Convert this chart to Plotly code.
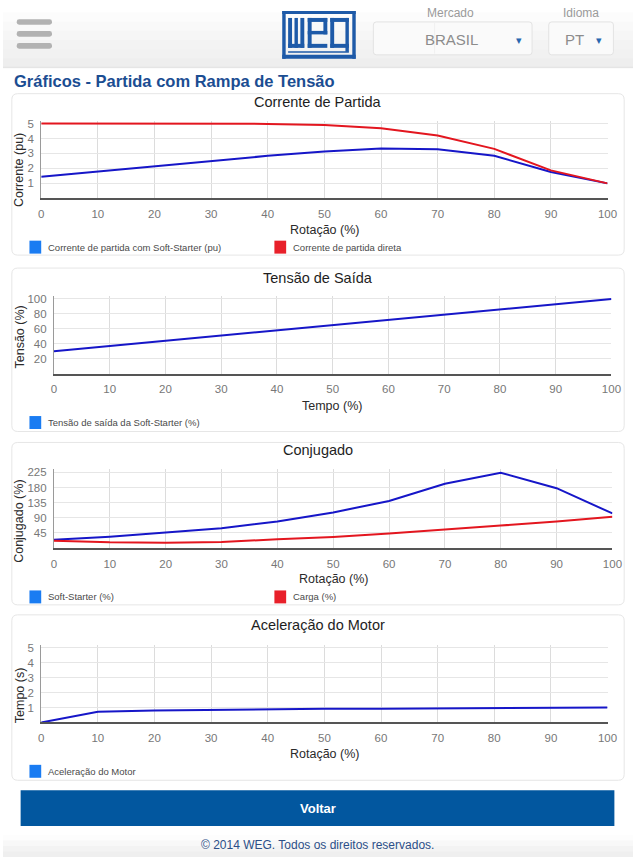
import plotly.graph_objects as go

W, H = 643, 857

# ---------------- data ----------------
rotacao = [0, 10, 20, 30, 40, 50, 60, 70, 80, 90, 100]
tempo_pct = [0, 10, 20, 30, 40, 50, 60, 70, 80, 90, 100]

corrente_soft = [1.45, 1.8, 2.16, 2.5, 2.84, 3.13, 3.33, 3.29, 2.85, 1.76, 1.0]
corrente_direta = [5.0, 5.0, 5.0, 5.0, 4.98, 4.91, 4.69, 4.2, 3.31, 1.87, 1.0]

tensao_saida = [30, 37, 44, 51, 58, 65, 72, 79, 86, 93, 100]

conj_soft = [25, 34, 46, 59, 79, 106, 140, 191, 224, 178, 103]
conj_carga = [22, 17, 16, 18, 26, 33, 43, 54, 67, 79, 93]

aceleracao = [0, 0.71, 0.8, 0.84, 0.89, 0.91, 0.92, 0.94, 0.96, 0.98, 1.0]

x_ticks = [0, 10, 20, 30, 40, 50, 60, 70, 80, 90, 100]
y_ticks_corr = [1, 2, 3, 4, 5]
y_ticks_tens = [20, 40, 60, 80, 100]
y_ticks_conj = [45, 90, 135, 180, 225]
y_ticks_acel = [1, 2, 3, 4, 5]

BLUE_LINE = "#1616c8"
RED_LINE = "#e3161f"
BLUE_SQ = "#1a7cf2"
RED_SQ = "#e8202a"
FONT = "Liberation Sans, Arial, Helvetica, sans-serif"


def PX(x):
    return x / W


def PY(y):
    return 1 - y / H


fig = go.Figure()

# panel geometry (pixel): x0, x1, ytop, ybottom, yrange
panels = [
    dict(x=(39, 617), y=(118, 196), yr=[0, 5.2], yt=y_ticks_corr),
    dict(x=(52, 621), y=(294, 372), yr=[0, 104], yt=y_ticks_tens),
    dict(x=(52, 622), y=(468, 547), yr=[0, 234], yt=y_ticks_conj),
    dict(x=(39, 617), y=(644, 722), yr=[0, 5.2], yt=y_ticks_acel),
]

series = [
    [(rotacao, corrente_soft, BLUE_LINE, "Corrente de partida com Soft-Starter (pu)"),
     (rotacao, corrente_direta, RED_LINE, "Corrente de partida direta")],
    [(tempo_pct, tensao_saida, BLUE_LINE, "Tensão de saída da Soft-Starter (%)")],
    [(rotacao, conj_soft, BLUE_LINE, "Soft-Starter (%)"),
     (rotacao, conj_carga, RED_LINE, "Carga (%)")],
    [(rotacao, aceleracao, BLUE_LINE, "Aceleração do Motor")],
]

layout_axes = {}
for i, (p, ss) in enumerate(zip(panels, series), start=1):
    xa = "x" if i == 1 else f"x{i}"
    ya = "y" if i == 1 else f"y{i}"
    for xs, ys, col, name in ss:
        fig.add_trace(go.Scatter(x=xs, y=ys, mode="lines", name=name,
                                 line=dict(color=col, width=2),
                                 xaxis=xa, yaxis=ya, showlegend=False,
                                 cliponaxis=False))
    kx = "xaxis" if i == 1 else f"xaxis{i}"
    ky = "yaxis" if i == 1 else f"yaxis{i}"
    layout_axes[kx] = dict(
        domain=[PX(p["x"][0]), PX(p["x"][1])], anchor=ya, range=[0, 100],
        tickmode="array", tickvals=x_ticks, showgrid=True, gridcolor="#dcdcdc",
        gridwidth=1, zeroline=False, showline=True, linecolor="#555555",
        linewidth=2, ticks="", ticklabelstandoff=4,
        tickfont=dict(family=FONT, size=11.5, color="#777777"), fixedrange=True)
    layout_axes[ky] = dict(
        domain=[PY(p["y"][1]), PY(p["y"][0])], anchor=xa, range=p["yr"],
        tickmode="array", tickvals=p["yt"], showgrid=True, gridcolor="#e6e6e6",
        gridwidth=1, zeroline=False, showline=True, linecolor="#9a9a9a",
        linewidth=1, ticks="", ticklabelstandoff=4,
        tickfont=dict(family=FONT, size=11.5, color="#777777"), fixedrange=True)

shapes = []
annotations = []


def rect(x0, y0, x1, y1, fill=None, line=None, lw=0, layer="below"):
    shapes.append(dict(type="rect", xref="paper", yref="paper",
                       x0=PX(x0), x1=PX(x1), y0=PY(y1), y1=PY(y0),
                       fillcolor=fill if fill else "rgba(0,0,0,0)",
                       line=dict(color=line if line else "rgba(0,0,0,0)", width=lw),
                       layer=layer))


def rrect(x0, y0, x1, y1, r, fill, line, lw=1):
    # rounded rectangle in pixel coords -> paper path
    def p(x, y):
        return f"{PX(x):.5f},{PY(y):.5f}"
    path = (f"M {p(x0 + r, y0)} L {p(x1 - r, y0)} Q {p(x1, y0)} {p(x1, y0 + r)} "
            f"L {p(x1, y1 - r)} Q {p(x1, y1)} {p(x1 - r, y1)} "
            f"L {p(x0 + r, y1)} Q {p(x0, y1)} {p(x0, y1 - r)} "
            f"L {p(x0, y0 + r)} Q {p(x0, y0)} {p(x0 + r, y0)} Z")
    shapes.append(dict(type="path", xref="paper", yref="paper", path=path,
                       fillcolor=fill, line=dict(color=line, width=lw), layer="below"))


def text(x, y, s, size, color="#222222", anchor="center", bold=False, angle=0, family=FONT):
    annotations.append(dict(x=PX(x), y=PY(y), xref="paper", yref="paper",
                            text=f"<b>{s}</b>" if bold else s, showarrow=False,
                            xanchor=anchor, yanchor="middle", textangle=angle,
                            font=dict(family=family, size=size, color=color)))


# ---------------- header ----------------
bands = ["#ffffff", "#fcfcfc", "#f9f9f9", "#f6f6f6", "#f3f3f3", "#f1f1f1", "#eeeeee"]
for k, c in enumerate(bands):
    rect(0, k * 9.3, W, (k + 1) * 9.3 + 0.5, fill=c)
rect(0, 64, W, 65, fill="#e2e2e2")

# hamburger
for yy in (19, 31, 43):
    rrect(14, yy - 2.8, 50, yy + 2.8, 2.5, "#b2b2b2", "#b2b2b2", 0)

# WEG logo built from blocks
LB = "#1e5aa8"
logo_blocks = [
    (285, 8, 360, 11),      # top frame
    (285, 8, 288.5, 56),    # left frame
    (285, 52, 360, 56),     # bottom frame
    (356.5, 8, 360, 56),    # right frame
    # w
    (291, 15, 295, 45), (297.5, 15, 301, 45), (303.5, 15, 307.5, 45), (291, 41, 307.5, 45),
    # e
    (311, 15, 331, 19), (311, 15, 315, 45), (311, 28, 331, 31.5), (327, 15, 331, 31.5),
    (311, 41, 331, 45),
    # g
    (334, 15, 353, 19), (334, 15, 338, 45), (334, 41, 353, 45), (349.5, 15, 353, 49),
    (291, 48.5, 353, 50),
]
for b in logo_blocks:
    rect(*b, fill=LB)

# dropdowns
text(457, 10, "Mercado", 12, "#9a9a9a")
rrect(378, 19, 540, 52, 3, "#fafafa", "#e3e3e3", 1)
rect(440, 20, 441, 51, fill="#f0f0f0")
text(458, 37, "BRASIL", 15, "#8c8c8c")
text(527, 37, "▾", 11, "#2a67b0")
text(590, 10, "Idioma", 12, "#9a9a9a")
rrect(557, 19, 623, 52, 3, "#fafafa", "#e3e3e3", 1)
text(583, 37, "PT", 15, "#8c8c8c")
text(608, 37, "▾", 11, "#2a67b0")

# page title
text(9, 78, "Gráficos - Partida com Rampa de Tensão", 16.5, "#1b4d92", anchor="left", bold=True)

# ---------------- cards ----------------
cards = [(91, 253), (266, 430), (441, 604), (614, 780)]
for (t, b) in cards:
    rrect(9, t, 634, b, 6, "#ffffff", "#e6e6e6", 1)

chart_titles = [("Corrente de Partida", 99), ("Tensão de Saída", 276),
                ("Conjugado", 449), ("Aceleração do Motor", 624)]
for s, y in chart_titles:
    text(321, y, s, 14.5, "#1e1e1e")

x_titles = [("Rotação (%)", 328, 228), ("Tempo (%)", 336, 404),
            ("Rotação (%)", 337, 578), ("Rotação (%)", 328, 754)]
for s, x, y in x_titles:
    text(x, y, s, 12.5, "#2a2a2a")

y_titles = [("Corrente (pu)", 17, 168), ("Tensão (%)", 17, 335),
            ("Conjugado (%)", 17, 520), ("Tempo (s)", 17, 695)]
for s, x, y in y_titles:
    text(x, y, s, 12.5, "#2a2a2a", angle=-90)

# legends
legend_rows = [
    (245, [(27, BLUE_SQ, series[0][0][3]), (277, RED_SQ, series[0][1][3])]),
    (421, [(27, BLUE_SQ, series[1][0][3])]),
    (596, [(27, BLUE_SQ, series[2][0][3]), (277, RED_SQ, series[2][1][3])]),
    (771, [(27, BLUE_SQ, series[3][0][3])]),
]
for y, items in legend_rows:
    for x, col, lab in items:
        rect(x, y - 6.5, x + 12, y + 6.5, fill=col)
        text(x + 17, y, lab, 9.5, "#4a4a4a", anchor="left")

# ---------------- footer ----------------
rect(18, 790, 624, 826, fill="#02579f")
text(321, 808, "Voltar", 13, "#ffffff", bold=True)
for k, c in enumerate(["#fdfdfd", "#f8f8f8", "#f3f3f3", "#efefef"]):
    rect(0, 835 + k * 5.5, W, 835 + (k + 1) * 5.5 + 0.5, fill=c)
text(321, 845, "© 2014 WEG. Todos os direitos reservados.", 12, "#2c4f88")

fig.update_layout(
    width=W, height=H, margin=dict(l=0, r=0, t=0, b=0),
    paper_bgcolor="#ffffff", plot_bgcolor="rgba(0,0,0,0)",
    showlegend=False, shapes=shapes, annotations=annotations,
    font=dict(family=FONT), **layout_axes)

fig.write_html(
    "out.html",
    config={"displayModeBar": False},
    default_width="643px",
    default_height="857px",
    post_script=("document.body.style.margin='0';document.body.style.padding='0';"
                 "document.body.style.overflow='hidden';"
                 "document.documentElement.style.overflow='hidden';"),
)
